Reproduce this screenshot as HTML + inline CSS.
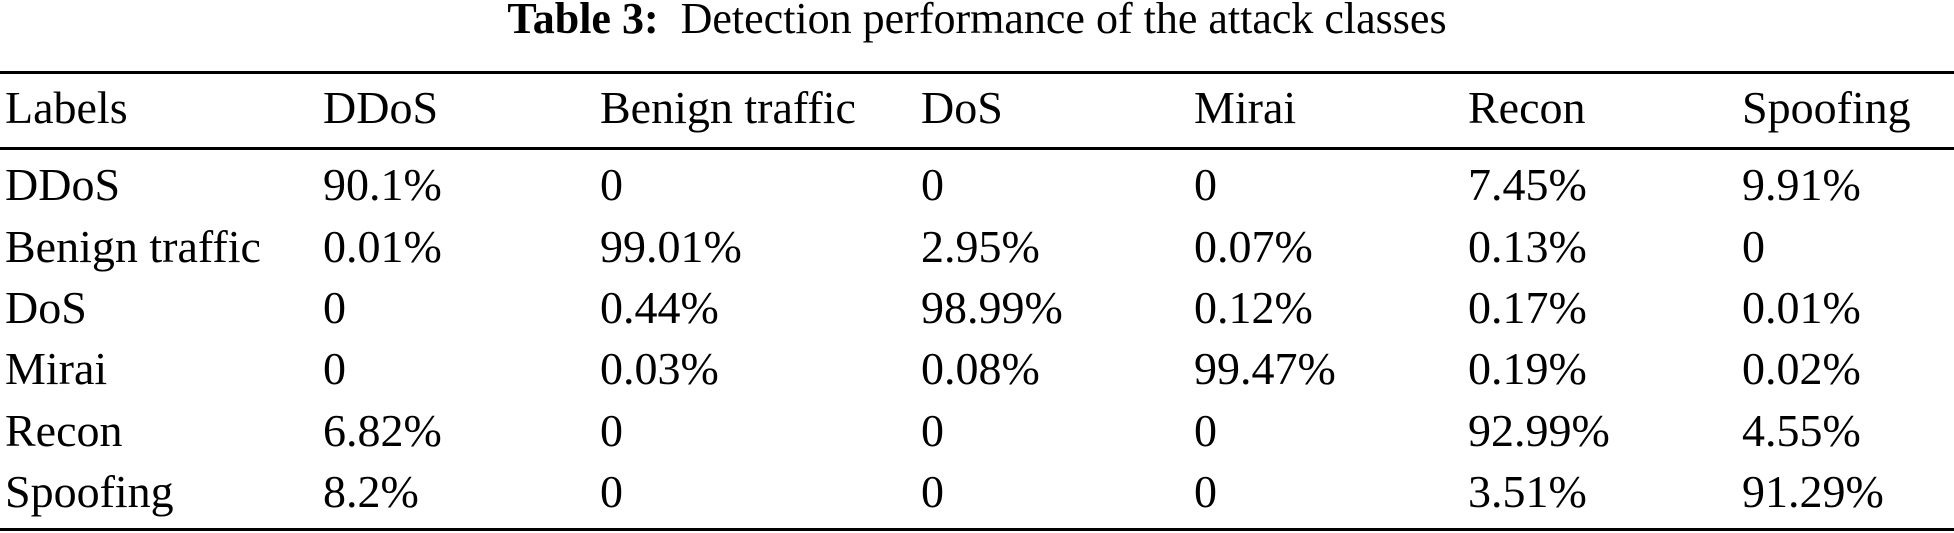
<!DOCTYPE html>
<html><head><meta charset="utf-8"><style>
html,body{margin:0;padding:0;background:#fff;}
body{width:1954px;height:533px;position:relative;overflow:hidden;font-family:"Liberation Serif",serif;color:#000;}
.t{position:absolute;font-size:46px;line-height:46px;white-space:nowrap;}
.rule{position:absolute;left:0;width:1954px;background:#000;}
</style></head><body>
<div class="t" style="left:0;width:1954px;text-align:center;top:-4px;font-size:44px;"><b>Table 3:</b>&nbsp; Detection performance of the attack classes</div>
<div class="rule" style="top:71px;height:3px;"></div>
<div class="rule" style="top:147px;height:3px;"></div>
<div class="rule" style="top:528px;height:3px;"></div>
<div id="tbl"></div>
<script>
const headers = ["Labels","DDoS","Benign traffic","DoS","Mirai","Recon","Spoofing"];
const rowLabels = ["DDoS","Benign traffic","DoS","Mirai","Recon","Spoofing"];
const values = [
 ["90.1%","0","0","0","7.45%","9.91%"],
 ["0.01%","99.01%","2.95%","0.07%","0.13%","0"],
 ["0","0.44%","98.99%","0.12%","0.17%","0.01%"],
 ["0","0.03%","0.08%","99.47%","0.19%","0.02%"],
 ["6.82%","0","0","0","92.99%","4.55%"],
 ["8.2%","0","0","0","3.51%","91.29%"]
];
const colX=[5,323,600,921,1194,1468,1742];
const baseY=[126,203,265,326,387,449,510];
const tbl=document.getElementById('tbl');
function cell(txt,x,b,name){
  const d=document.createElement('div');
  d.className='t';
  d.style.left=x+'px';
  d.style.top=(b-41)+'px';
  d.textContent=txt;
  
  
  tbl.appendChild(d);
}
headers.forEach((h,i)=>cell(h,colX[i],baseY[0],'header-'+h.toLowerCase().replace(/ /g,'-')));
rowLabels.forEach((r,ri)=>{
  cell(r,colX[0],baseY[ri+1],'row-label-'+r.toLowerCase().replace(/ /g,'-'));
  values[ri].forEach((v,ci)=>cell(v,colX[ci+1],baseY[ri+1],'cell-'+r.toLowerCase().replace(/ /g,'-')+'-'+headers[ci+1].toLowerCase().replace(/ /g,'-')));
});
</script>
</body></html>
